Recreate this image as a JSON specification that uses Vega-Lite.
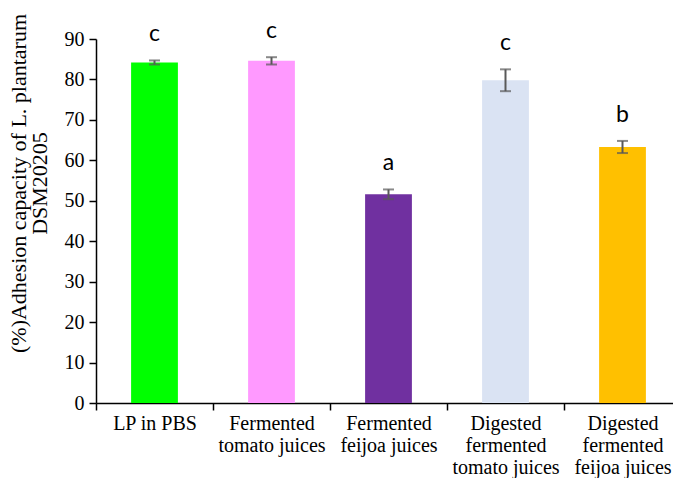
{
  "$schema": "https://vega.github.io/schema/vega-lite/v6.json",
  "autosize": {"type": "none"},
  "width": 585,
  "height": 364,
  "padding": {"left": 96, "top": 39, "right": -8, "bottom": 75},
  "background": "white",
  "data": {
    "values": [
      {"group": "LP in PBS", "mean": 84.2, "lower": 83.7, "upper": 84.7, "letter": "c"},
      {"group": "Fermented\ntomato juices", "mean": 84.6, "lower": 83.7, "upper": 85.5, "letter": "c"},
      {"group": "Fermented\nfeijoa juices", "mean": 51.6, "lower": 50.4, "upper": 52.8, "letter": "a"},
      {"group": "Digested\nfermented\ntomato juices", "mean": 79.8, "lower": 77.1, "upper": 82.5, "letter": "c"},
      {"group": "Digested\nfermented\nfeijoa juices", "mean": 63.3, "lower": 61.8, "upper": 64.8, "letter": "b"}
    ]
  },
  "encoding": {
    "x": {
      "field": "group",
      "type": "nominal",
      "sort": null,
      "scale": {"paddingInner": 0, "paddingOuter": 0},
      "axis": {
        "title": null,
        "labelAngle": 0,
        "tickBand": "extent",
        "labelExpr": "split(datum.label, '\\n')",
        "labelFont": "Liberation Serif",
        "labelFontSize": 20,
        "labelColor": "black",
        "labelBaseline": "top",
        "labelLineHeight": 22,
        "labelPadding": 3,
        "labelOverlap": false,
        "labelBound": false,
        "domainColor": "black",
        "domainWidth": 1.5,
        "tickColor": "black",
        "tickWidth": 1.5,
        "tickSize": 7
      }
    }
  },
  "layer": [
    {
      "mark": {"type": "bar", "width": {"band": 0.4}},
      "encoding": {
        "y": {
          "field": "mean",
          "type": "quantitative",
          "scale": {"domain": [0, 90], "nice": false},
          "axis": {
            "values": [0, 10, 20, 30, 40, 50, 60, 70, 80, 90],
            "grid": false,
            "title": ["(%)Adhesion capacity of L. plantarum", "DSM20205"],
            "titleFont": "Liberation Serif",
            "titleFontSize": 22,
            "titleFontWeight": "normal",
            "titleColor": "black",
            "titleAngle": -90,
            "titleAlign": "center",
            "titleBaseline": "top",
            "titleLineHeight": 21,
            "titleX": -88,
            "titleY": 144,
            "labelFont": "Liberation Serif",
            "labelFontSize": 20,
            "labelColor": "black",
            "labelPadding": 5,
            "domainColor": "black",
            "domainWidth": 1.5,
            "tickColor": "black",
            "tickWidth": 1.5,
            "tickSize": 7
          }
        },
        "color": {
          "field": "group",
          "type": "nominal",
          "sort": null,
          "legend": null,
          "scale": {"range": ["#00FF00", "#FF99FF", "#7030A0", "#DAE3F3", "#FFC000"]}
        }
      }
    },
    {
      "mark": {"type": "rule", "color": "#595959", "strokeWidth": 2},
      "encoding": {
        "y": {"field": "lower", "type": "quantitative"},
        "y2": {"field": "upper"}
      }
    },
    {
      "mark": {"type": "tick", "color": "#595959", "size": 11, "thickness": 2},
      "encoding": {"y": {"field": "lower", "type": "quantitative"}}
    },
    {
      "mark": {"type": "tick", "color": "#595959", "size": 11, "thickness": 2},
      "encoding": {"y": {"field": "upper", "type": "quantitative"}}
    },
    {
      "mark": {"type": "text", "font": "Lato", "fontSize": 23, "color": "black", "baseline": "alphabetic", "dy": -19},
      "encoding": {
        "y": {"field": "upper", "type": "quantitative"},
        "text": {"field": "letter"}
      }
    }
  ],
  "config": {"view": {"stroke": null}}
}
